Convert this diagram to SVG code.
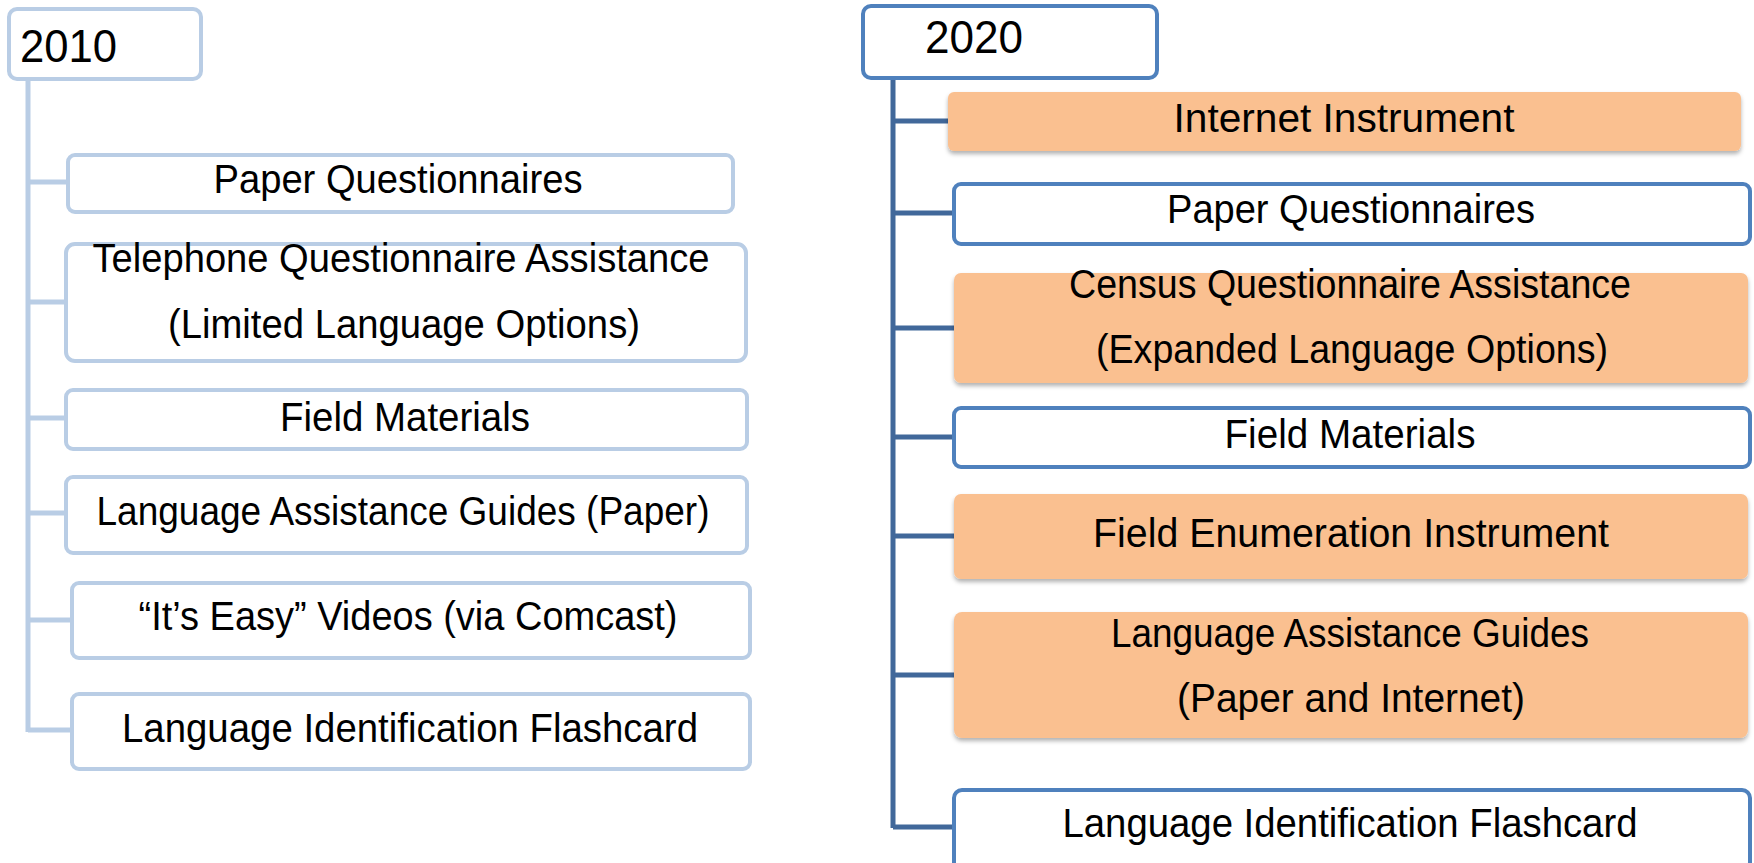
<svg xmlns="http://www.w3.org/2000/svg" width="1754" height="863" viewBox="0 0 1754 863">
<style>
.t{font-family:"Liberation Sans",Arial,sans-serif;font-size:40px;fill:#000;text-anchor:middle}
.yr{font-family:"Liberation Sans",Arial,sans-serif;font-size:46px;fill:#000}
.lb{fill:#fff;stroke:#B9CDE5;stroke-width:4}
.db{fill:#fff;stroke:#4F81BD;stroke-width:4}
.ob{fill:#FAC090;stroke:none;filter:url(#sh)}
.cl{stroke:#B9CDE5;stroke-width:5;fill:none}
.cd{stroke:#41689A;stroke-width:5;fill:none}
</style>
<defs>
<filter id="sh" x="-5%" y="-20%" width="110%" height="150%">
<feDropShadow dx="0" dy="3" stdDeviation="2" flood-color="#000" flood-opacity="0.3"/>
</filter>
</defs>
<rect width="1754" height="863" fill="#fff"/>
<g id="connectors">
<path class="cl" d="M28 80 V732 M28 182 H68 M28 302 H66 M28 418 H66 M28 513 H66 M28 620 H72 M28 730 H72"/>
<path class="cd" d="M893 79 V828 M893 121 H948 M893 213 H954 M893 328 H954 M893 437 H954 M893 536 H954 M893 675 H954 M893 827 H954"/>
</g>
<g id="n2010"><rect class="lb" x="9" y="9" width="192" height="70" rx="8"/><text class="yr" x="20" y="62" textLength="97" lengthAdjust="spacingAndGlyphs">2010</text></g>
<g id="l1"><rect class="lb" x="68" y="155" width="665" height="57" rx="7"/><text class="t" x="398" y="193" textLength="369" lengthAdjust="spacingAndGlyphs">Paper Questionnaires</text></g>
<g id="l2"><rect class="lb" x="66" y="244" width="680" height="117" rx="9"/><text class="t" x="401" y="272" textLength="617" lengthAdjust="spacingAndGlyphs">Telephone Questionnaire Assistance</text><text class="t" x="404" y="338" textLength="472" lengthAdjust="spacingAndGlyphs">(Limited Language Options)</text></g>
<g id="l3"><rect class="lb" x="66" y="390" width="681" height="59" rx="7"/><text class="t" x="405" y="431" textLength="250" lengthAdjust="spacingAndGlyphs">Field Materials</text></g>
<g id="l4"><rect class="lb" x="66" y="477" width="681" height="76" rx="7"/><text class="t" x="403" y="525" textLength="613" lengthAdjust="spacingAndGlyphs">Language Assistance Guides (Paper)</text></g>
<g id="l5"><rect class="lb" x="72" y="583" width="678" height="75" rx="7"/><text class="t" x="408" y="630" textLength="539" lengthAdjust="spacingAndGlyphs">“It’s Easy” Videos (via Comcast)</text></g>
<g id="l6"><rect class="lb" x="72" y="694" width="678" height="75" rx="7"/><text class="t" x="410" y="742" textLength="576" lengthAdjust="spacingAndGlyphs">Language Identification Flashcard</text></g>
<g id="n2020"><rect class="db" x="863" y="6" width="294" height="72" rx="8"/><text class="yr" x="925" y="53" textLength="98" lengthAdjust="spacingAndGlyphs">2020</text></g>
<g id="r1"><rect class="ob" x="948" y="92" width="793" height="59" rx="6"/><text class="t" x="1344" y="132" textLength="341" lengthAdjust="spacingAndGlyphs">Internet Instrument</text></g>
<g id="r2"><rect class="db" x="954" y="184" width="796" height="60" rx="7"/><text class="t" x="1351" y="223" textLength="368" lengthAdjust="spacingAndGlyphs">Paper Questionnaires</text></g>
<g id="r3"><rect class="ob" x="954" y="273" width="794" height="110" rx="7"/><text class="t" x="1350" y="298" textLength="562" lengthAdjust="spacingAndGlyphs">Census Questionnaire Assistance</text><text class="t" x="1352" y="363" textLength="512" lengthAdjust="spacingAndGlyphs">(Expanded Language Options)</text></g>
<g id="r4"><rect class="db" x="954" y="408" width="796" height="59" rx="7"/><text class="t" x="1350" y="448" textLength="251" lengthAdjust="spacingAndGlyphs">Field Materials</text></g>
<g id="r5"><rect class="ob" x="954" y="494" width="794" height="85" rx="7"/><text class="t" x="1351" y="547" textLength="516" lengthAdjust="spacingAndGlyphs">Field Enumeration Instrument</text></g>
<g id="r6"><rect class="ob" x="954" y="612" width="794" height="126" rx="8"/><text class="t" x="1350" y="647" textLength="478" lengthAdjust="spacingAndGlyphs">Language Assistance Guides</text><text class="t" x="1351" y="712" textLength="348" lengthAdjust="spacingAndGlyphs">(Paper and Internet)</text></g>
<g id="r7"><rect class="db" x="954" y="790" width="796" height="80" rx="8"/><text class="t" x="1350" y="837" textLength="575" lengthAdjust="spacingAndGlyphs">Language Identification Flashcard</text></g>
</svg>
